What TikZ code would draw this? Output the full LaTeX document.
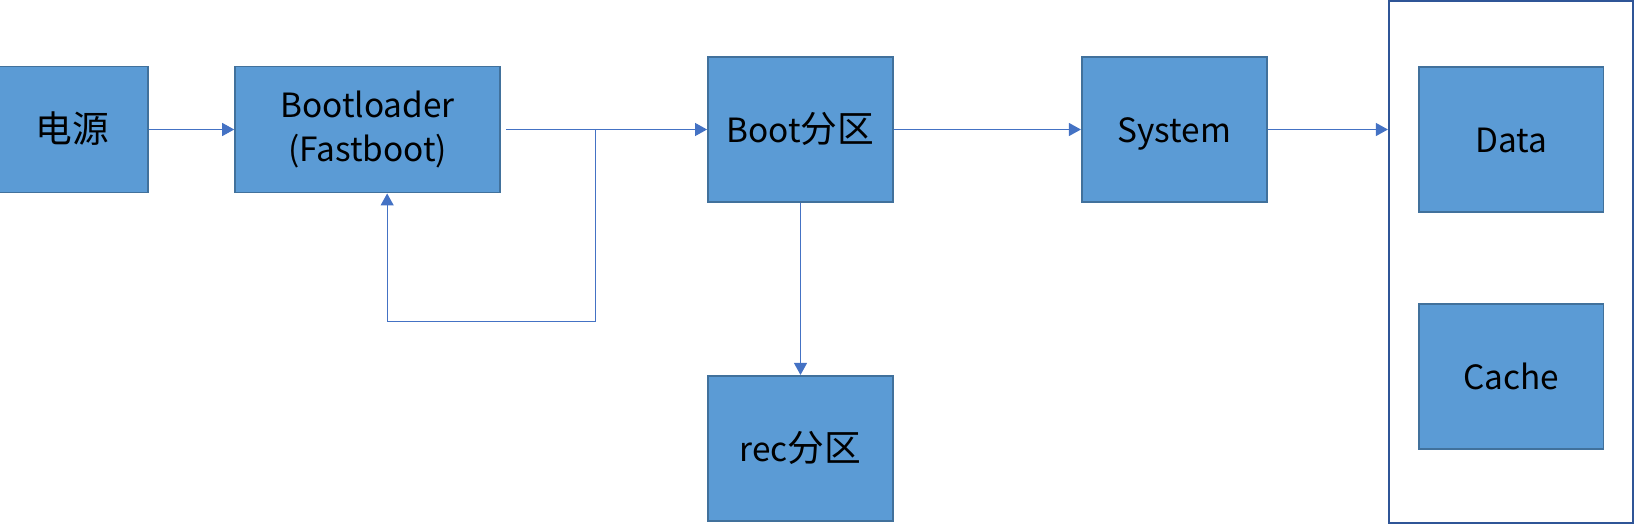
\documentclass[tikz,border=0pt]{standalone}
\usepackage{fontspec}
\setmainfont{Noto Sans CJK SC}
\newfontfamily\cjk[Scale=1.1]{Noto Sans CJK SC}
\usetikzlibrary{arrows.meta, positioning}
\definecolor{colFill}{RGB}{91,155,213}
\definecolor{colEdge}{RGB}{65,113,156}
\definecolor{colLine}{RGB}{68,114,196}
\definecolor{colFrame}{RGB}{47,85,151}

\begin{document}
\begin{tikzpicture}[
  x=0.02cm, y=-0.02cm,
  block/.style={rectangle, draw=colEdge, line width=1.1pt, fill=colFill, inner sep=0pt,
                minimum width=3.7cm, minimum height=2.9cm,
                font=\fontsize{19}{25.5}\selectfont, align=center},
  oneline/.style={block, text height=0.7cm, text depth=0.16cm},
  frame/.style={rectangle, draw=colFrame, line width=1.3pt, inner sep=0pt,
                minimum width=4.88cm, minimum height=10.44cm},
  arr/.style={-{Triangle[length=0.24cm, width=0.26cm]}, colLine, line width=0.6pt},
]
\useasboundingbox (0,0) rectangle (1635,524);

% main chain
\node[oneline] (boot) at (800.5,129.5) {Boot{\cjk 分区}};
\node[block, minimum width=5.3cm, minimum height=2.52cm, left=4.12cm of boot] (loader)
  {Bootloader\\(Fastboot)};
\node[oneline, minimum width=3.04cm, minimum height=2.52cm, left=1.7cm of loader] (power)
  {\cjk 电源};
\node[oneline, right=3.74cm of boot] (system) {System};
\node[oneline, below=3.44cm of boot] (rec) {rec{\cjk 分区}};

% partitions
\node[frame] (disk) at (1511,262) {};
\node[oneline] (data) at (1511,139.5) {Data};
\node[oneline, below=1.8cm of data] (cache) {Cache};

% connectors
\coordinate (fork) at (595.5,129.5);
\draw[arr] (power) -- (loader);
\draw[arr, shorten <=0.1cm] (loader.east |- fork) -- (boot.west |- fork);
\draw[arr] (fork) -- (595.5,321.5) -| ([xshift=0.39cm]loader.south);
\draw[arr] (boot) -- (system);
\draw[arr] (boot) -- (rec);
\draw[arr] (system) -- (system -| disk.west);

\end{tikzpicture}
\end{document}
